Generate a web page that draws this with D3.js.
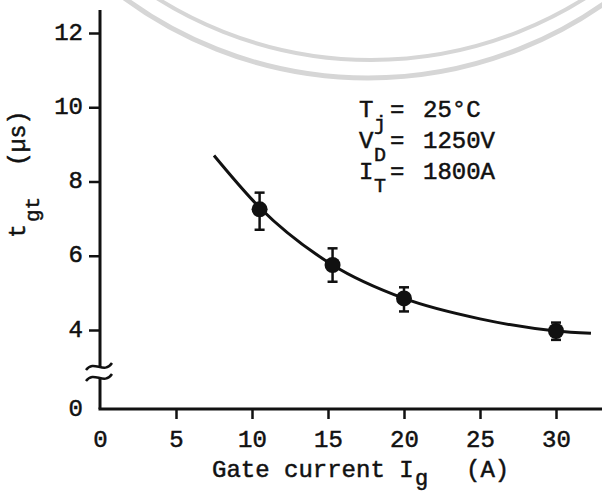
<!DOCTYPE html>
<html>
<head>
<meta charset="utf-8">
<script src="https://cdn.jsdelivr.net/npm/d3@7"></script>
<style>
  html, body { margin: 0; padding: 0; background: #fff; }
  svg { display: block; }
  text { font-family: "Liberation Mono", "DejaVu Sans Mono", monospace; fill: #111; stroke: #111; stroke-width: 0.5px; }
</style>
</head>
<body>
<svg id="chart" width="602" height="493"></svg>
<script>
// ---- data ----
const xTicks = [0, 5, 10, 15, 20, 25, 30];
const yTicks = [0, 4, 6, 8, 10, 12];
const current = [10.5, 15.3, 20, 30];          // gate current Ig (A)
const tgt = [7.25, 5.75, 4.85, 3.95];           // tgt (µs)
const tgtHigh = [7.7, 6.2, 5.15, 4.2];
const tgtLow = [6.7, 5.3, 4.5, 3.5];
const fitCurrent = [7.5, 10.5, 15.3, 20, 25, 30, 32.3];
const fitTgt = [8.7, 7.3, 5.75, 4.85, 4.3, 3.95, 3.83];
const condSymbols = ["T", "V", "I"];
const condSubs = ["j", "D", "T"];
const condValues = ["25°C", "1250V", "1800A"];
const xTitle = ["Gate current I", "g", "(A)"];
const yTitle = ["t", "gt", "(µs)"];

// ---- scales ----
const svg = d3.select("#chart");
const x = d3.scaleLinear().domain([0, 30]).range([100, 556]);
const y = d3.scaleLinear().domain([0, 4, 12]).range([409, 330, 33]);

// ---- watermark (scan seal) ----
const wm = svg.append("g").attr("fill", "none").attr("stroke", "#d6d6d6");
wm.append("circle").attr("cx", 368).attr("cy", -333).attr("r", 411).attr("stroke-width", 5);
wm.append("circle").attr("cx", 371).attr("cy", -341).attr("r", 401).attr("stroke-width", 4);

// ---- x axis ----
const xAxis = svg.append("g")
  .attr("transform", `translate(0,${y(0)})`)
  .call(d3.axisBottom(x).tickValues(xTicks).tickFormat(d3.format("d")).tickSize(10).tickPadding(11));
xAxis.select(".domain").remove();
xAxis.selectAll(".tick line").attr("stroke", "#111").attr("stroke-width", 2.5)
  .filter(d => d === 0).remove();
xAxis.selectAll(".tick text").attr("font-size", 24).attr("fill", "#111")
  .style("font-family", "'Liberation Mono', monospace");
svg.append("line").attr("x1", x(0) - 1.5).attr("x2", x(33.2))
  .attr("y1", y(0)).attr("y2", y(0)).attr("stroke", "#111").attr("stroke-width", 3);

// ---- y axis ----
const yAxis = svg.append("g")
  .attr("transform", `translate(${x(0)},0)`)
  .call(d3.axisLeft(y).tickValues(yTicks).tickFormat(d3.format("d")).tickSize(11).tickPadding(6));
yAxis.select(".domain").remove();
yAxis.selectAll(".tick line").attr("stroke", "#111").attr("stroke-width", 2.5)
  .filter(d => d === 0).remove();
yAxis.selectAll(".tick text").attr("font-size", 24).attr("fill", "#111").attr("dy", "0.25em")
  .style("font-family", "'Liberation Mono', monospace");

// axis line with break
const breakTop = y(4) + 37, breakBot = y(4) + 48;
svg.append("line").attr("x1", x(0)).attr("x2", x(0)).attr("y1", y(12) - 23).attr("y2", breakTop)
  .attr("stroke", "#111").attr("stroke-width", 3);
svg.append("line").attr("x1", x(0)).attr("x2", x(0)).attr("y1", breakBot).attr("y2", y(0))
  .attr("stroke", "#111").attr("stroke-width", 3);
[breakTop, breakBot].forEach(b => {
  svg.append("path")
    .attr("d", `M${x(0) - 14},${b + 3} C${x(0) - 6},${b - 8} ${x(0) + 4},${b + 8} ${x(0) + 12},${b - 4}`)
    .attr("fill", "none").attr("stroke", "#111").attr("stroke-width", 2.5);
});

// ---- fitted curve ----
const fit = fitCurrent.map((c, i) => [c, fitTgt[i]]);
svg.append("path")
  .datum(fit)
  .attr("d", d3.line().x(d => x(d[0])).y(d => y(d[1])).curve(d3.curveMonotoneX))
  .attr("fill", "none").attr("stroke", "#111").attr("stroke-width", 3);

// ---- error bars and points ----
const pts = current.map((c, i) => ({ c, v: tgt[i], hi: tgtHigh[i], lo: tgtLow[i] }));
const g = svg.append("g").selectAll("g").data(pts).join("g");
g.append("line").attr("x1", d => x(d.c)).attr("x2", d => x(d.c))
  .attr("y1", d => y(d.hi)).attr("y2", d => y(d.lo)).attr("stroke", "#111").attr("stroke-width", 2.5);
g.append("line").attr("x1", d => x(d.c) - 5).attr("x2", d => x(d.c) + 5)
  .attr("y1", d => y(d.hi)).attr("y2", d => y(d.hi)).attr("stroke", "#111").attr("stroke-width", 2.5);
g.append("line").attr("x1", d => x(d.c) - 5).attr("x2", d => x(d.c) + 5)
  .attr("y1", d => y(d.lo)).attr("y2", d => y(d.lo)).attr("stroke", "#111").attr("stroke-width", 2.5);
g.append("circle").attr("cx", d => x(d.c)).attr("cy", d => y(d.v)).attr("r", 8).attr("fill", "#111");

// ---- conditions annotation ----
const cond = svg.append("g");
condSymbols.forEach((s, i) => {
  const by = 117 + i * 31;
  const t = cond.append("text").attr("font-size", 24).attr("y", by);
  t.append("tspan").attr("x", 359).text(s);
  t.append("tspan").attr("x", 374).attr("dy", 13).attr("font-size", 20).text(condSubs[i]);
  t.append("tspan").attr("x", 390).attr("dy", -13).text("=");
  t.append("tspan").attr("x", 423).text(condValues[i]);
});

// ---- axis titles ----
const xt = svg.append("text").attr("font-size", 24).attr("y", 477);
xt.append("tspan").attr("x", 212).text(xTitle[0]);
xt.append("tspan").attr("x", 415).attr("dy", 8).attr("font-size", 22).text(xTitle[1]);
xt.append("tspan").attr("x", 466).attr("dy", -8).text(xTitle[2]);

const yt = svg.append("text").attr("font-size", 23)
  .attr("transform", "translate(25,238) rotate(-90)");
yt.append("tspan").attr("x", 0).attr("y", 0).text(yTitle[0]);
yt.append("tspan").attr("x", 16).attr("dy", 14).attr("font-size", 21).text(yTitle[1]);
yt.append("tspan").attr("x", 72).attr("dy", -14).text(yTitle[2]);
</script>
</body>
</html>
